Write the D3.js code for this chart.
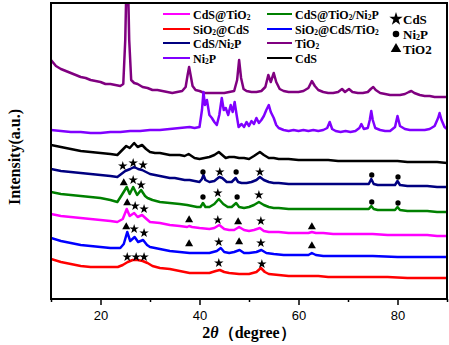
<!DOCTYPE html>
<html>
<head>
<meta charset="utf-8">
<script src="https://cdn.jsdelivr.net/npm/d3@7"></script>
<style>
  html, body { margin: 0; padding: 0; background: #fff; }
  svg { display: block; }
</style>
</head>
<body>
<svg id="chart" width="449" height="345"></svg>
<script>
// XRD patterns: [2θ (degree), intensity (a.u., stacked offset included)]
const tio2 = [[10,239],[11,233],[12,230],[13,228],[14,226],[15,224],[16,222],[17,221],[18,219],[19,218],[20,217],[21,215],[22,215],[23,214],[24,213],[24.6,215],[25.0,259],[25.3,330],[25.5,330],[25.8,259],[26.2,219],[26.8,216],[27.5,215],[28.5,212],[29.5,211],[30.5,209],[31.5,209],[32.5,208],[33.5,207],[34.5,206],[35.5,207],[36.5,208],[37.2,212],[37.6,224],[37.9,232],[38.2,224],[38.6,213],[39.2,209],[40,208],[41,206],[42,206],[43,206],[44,206],[45,206],[46,207],[47,208],[47.6,219],[48.0,239],[48.4,221],[48.9,210],[49.5,208],[50.5,207],[51.5,207],[52.5,208],[53.3,212],[53.9,224],[54.4,217],[55.0,226],[55.5,217],[56.2,210],[57,208],[58,207],[59,207],[60,207],[61,208],[62,211],[62.7,218],[63.3,213],[64,209],[65,207],[66,206],[67,206],[68,207],[68.8,210],[69.4,207],[70.2,210],[70.9,207],[72,206],[73,206],[74,207],[74.6,210],[75.1,212],[75.6,209],[76.5,206],[77.5,205],[78.5,204],[79.5,204],[80.5,204],[81.5,205],[82.3,207],[82.8,208],[83.4,206],[84.5,204],[85.5,203],[86.5,203],[87.5,202],[88.5,202],[90,202]];

const ni2p = [[10,169],[12,168],[14,167],[16,167],[18,166],[20,166],[22,167],[24,167],[26,168],[28,168],[30,169],[32,169],[34,170],[36,171],[38,172],[39,171],[40,172],[40.5,189],[40.8,207],[41.1,194],[41.5,199],[42,184],[42.5,181],[43,177],[43.5,174],[44.0,184],[44.5,201],[44.9,189],[45.3,191],[45.8,184],[46.3,194],[46.7,187],[47.1,197],[47.5,184],[47.9,172],[48.5,175],[49,172],[49.5,177],[50,173],[50.5,178],[51,175],[51.5,181],[52,176],[52.5,179],[53,183],[53.5,189],[54.0,194],[54.4,187],[55,181],[55.5,174],[56,171],[57,169],[58,168],[59,169],[60,168],[61,169],[62,168],[63,169],[64,168],[65,169],[65.8,171],[66.3,177],[66.8,170],[67.5,168],[68.5,167],[69.5,168],[70.5,167],[71.5,168],[72.3,171],[72.7,175],[73.2,170],[74.0,171],[74.4,179],[74.7,188],[75.0,179],[75.5,171],[76.5,169],[77.5,168],[78.5,168],[79.5,172],[80.0,183],[80.5,173],[81.5,170],[82.5,169],[83.5,169],[84.5,169],[85.5,169],[86.5,170],[87.5,173],[88.2,181],[88.5,186],[88.9,179],[89.5,172],[90,170]];

const cds = [[10,154],[12,152],[14,150],[16,148],[18,147],[20,146],[22,145],[23.4,144],[24.2,148],[25.2,153],[25.9,151],[26.8,156],[27.5,152],[28.4,154],[29.2,150],[30,147],[31,146],[32,146],[33,145],[34,144],[35,144],[36,144],[37,143],[37.8,145],[38.4,143],[39,141],[40,140],[41,141],[42,142],[43,144],[43.9,147],[44.6,144],[45.3,141],[46,142],[47,142],[48,141],[49,141],[50,140],[51,143],[52.2,147],[53,144],[54,141],[55,141],[56,140],[58,140],[60,139],[62,139],[64,139],[66,139],[68,138],[70,138],[72,138],[74,138],[76,138],[78,138],[80,138],[82,137],[84,137],[86,137],[88,137],[90,136]];

const cdsNi2p = [[10,130],[12,128],[14,127],[16,126],[18,125],[20,124],[22,123],[23.4,122],[24.2,125],[25,128],[26,130],[26.8,132],[27.6,130],[28.4,129],[29.2,127],[30,125],[31,124],[32,123],[33,122],[34,121],[35,121],[36,120],[37,119],[38,119],[39,118],[40,117],[40.5,120],[40.8,124],[41.2,119],[42,117],[43,118],[44,122],[44.6,121],[45.5,117],[46.5,117],[47.3,121],[47.8,117],[48.5,116],[49.5,116],[50.5,117],[51.5,119],[52.2,122],[53,119],[54,117],[55,116],[56,116],[58,115],[60,115],[62,115],[64,115],[66,115],[68,115],[70,115],[72,115],[74.2,115],[74.7,120],[75.2,115],[76,114],[78,114],[79.5,114],[80,118],[80.5,114],[82,113],[84,113],[86,113],[88,112],[90,112]];

const cdsTio2Ni2p = [[10,107],[12,105],[14,104],[16,103],[18,102],[20,101],[22,99],[23.4,97],[24.3,104],[25.3,112],[25.9,105],[26.6,112],[27.4,104],[28.2,109],[29,103],[29.5,101],[30.5,99],[32,97],[34,96],[36,95],[37.5,94],[38.5,93],[39.5,92],[40.2,92],[40.7,96],[41.2,92],[42,92],[43,95],[43.9,100],[44.8,95],[45.7,92],[46.5,92],[47.4,96],[48,92],[49,91],[50,92],[51,94],[52,97],[53,94],[54,92],[55,91],[56,91],[58,90],[60,90],[62,90],[64,90],[66,90],[68,90],[70,90],[72,90],[74.2,90],[74.7,93],[75.2,90],[76,89],[78,89],[79.5,89],[80,92],[80.5,89],[82,88],[84,88],[86,88],[88,87],[90,87]];

const cdsTio2 = [[10,85],[12,83],[14,82],[16,81],[18,80],[20,79],[22,78],[23.4,77],[24.5,80],[25.3,90],[25.9,83],[26.8,86],[27.5,82],[28.4,84],[29.3,80],[30,77],[32,76],[34,74],[36,73],[37.5,72],[37.9,73],[38.5,72],[40,71],[42,70],[43,71],[44,74],[45,70],[46,69],[47,69],[48,72],[49,69],[50,68],[51,69],[52.2,71],[53,68],[54,67],[56,67],[58,66],[60,66],[62,66],[62.7,67],[63.5,66],[65,66],[67,65],[70,65],[72,65],[75,65],[78,64],[80,64],[82,64],[84,64],[86,64],[88,63],[90,63]];

const sio2CdsTio2 = [[10,61],[12,58],[14,56],[16,54],[18,53],[20,52],[22,51],[24,51],[24.7,55],[25.4,67],[26,58],[26.9,62],[27.6,57],[28.6,59],[29.4,54],[30,52],[32,50],[34,48],[36,47],[38,46],[40,46],[42,46],[43.5,48],[44.3,51],[45,47],[46,46],[47,47],[48.1,49],[49,46],[50,46],[51.5,47],[52.5,49],[53.5,46],[55,45],[57,44],[60,44],[62,44],[62.7,46],[63.5,44],[65,43],[70,43],[75,43],[80,42],[85,42],[90,42]];

const sio2Cds = [[10,40],[12,37],[14,35],[16,33],[18,32],[20,32],[22,32],[23.5,32],[24.5,34],[25.5,37],[26.5,39],[27.5,39],[28.5,38],[29.5,36],[30.5,33],[32,31],[34,30],[36,28],[38,26],[40,26],[42,26],[43.3,28],[44.1,29],[45,27],[46,26],[48,25],[50,25],[51.5,27],[52.4,31],[53.2,27],[54,25],[56,24],[58,23],[60,23],[62,23],[64,23],[66,22],[70,22],[74,22],[78,22],[82,21],[86,21],[90,21]];

// Series names, colours and patterns (drawn back to front)
const seriesNames = ["TiO₂", "Ni₂P", "CdS", "CdS/Ni₂P", "CdS@TiO₂/Ni₂P", "CdS@TiO₂", "SiO₂@CdS/TiO₂", "SiO₂@CdS"];
const seriesColors = ["#800080", "#8000ff", "#000000", "#000080", "#008000", "#ff00ff", "#0000ff", "#ff0000"];
const seriesData = [tio2, ni2p, cds, cdsNi2p, cdsTio2Ni2p, cdsTio2, sio2CdsTio2, sio2Cds];

// Phase markers: [2θ, intensity position, phase]
const phaseMarks = [
  [24.5,133,"CdS"],[26.6,136,"CdS"],[28.6,134,"CdS"],
  [40.7,127,"Ni2P"],[44.1,127,"CdS"],[47.4,127,"Ni2P"],[52.2,127,"CdS"],[74.8,124,"Ni2P"],[80.1,122,"Ni2P"],
  [24.7,116,"TiO2"],[26.6,119,"CdS"],[28.2,114,"CdS"],
  [40.7,102,"Ni2P"],[43.7,106,"CdS"],[47.6,102,"Ni2P"],[52.0,104,"CdS"],[74.8,97,"Ni2P"],[80.1,96,"Ni2P"],
  [25.4,96,"TiO2"],[27.0,93,"CdS"],[28.8,90,"CdS"],[37.9,79,"TiO2"],
  [43.7,79,"CdS"],[47.8,77,"TiO2"],[52.4,78,"CdS"],[62.7,72,"TiO2"],
  [25.2,72,"TiO2"],[26.8,70,"CdS"],[28.8,66,"CdS"],[37.9,55,"TiO2"],
  [43.9,57,"CdS"],[48.0,57,"TiO2"],[52.4,56,"CdS"],[62.7,53,"TiO2"],
  [25.4,42,"CdS"],[27.2,42,"CdS"],[28.8,42,"CdS"],[43.9,36,"CdS"],[52.6,35,"CdS"]
];

// Legend layout order: column 1 then column 2
const legendCol1 = [5, 7, 3, 1];
const legendCol2 = [4, 6, 0, 2];
const phaseLegend = [["CdS", "CdS"], ["Ni2P", "Ni₂P"], ["TiO2", "TiO2"]];

const xTicks = [20, 40, 60, 80];
const xMinorTicks = [10, 30, 50, 70, 90];

const svg = d3.select("#chart");
const plot = { left: 51, right: 447, top: 3, bottom: 299 };

const x = d3.scaleLinear().domain([10, 90]).range([plot.left, plot.right]);
const y = d3.scaleLinear().domain([0, 296]).range([plot.bottom, plot.top]);

svg.append("defs").append("clipPath").attr("id", "plotClip")
  .append("rect")
  .attr("x", plot.left).attr("y", plot.top)
  .attr("width", plot.right - plot.left).attr("height", plot.bottom - plot.top);

const line = d3.line().x(d => x(d[0])).y(d => y(d[1])).curve(d3.curveLinear);

const curves = svg.append("g").attr("clip-path", "url(#plotClip)");
seriesData.forEach((data, i) => {
  curves.append("path")
    .datum(data)
    .attr("d", line)
    .attr("fill", "none")
    .attr("stroke", seriesColors[i])
    .attr("stroke-width", 2.5)
    .attr("stroke-linejoin", "round");
});

// Phase symbols
const symbolFor = {
  CdS: d3.symbol().type(d3.symbolStar).size(28),
  Ni2P: d3.symbol().type(d3.symbolCircle).size(22),
  TiO2: d3.symbol().type(d3.symbolTriangle).size(28)
};
svg.append("g").selectAll("path")
  .data(phaseMarks)
  .join("path")
  .attr("d", d => symbolFor[d[2]]())
  .attr("transform", d => `translate(${x(d[0])},${y(d[1])})`)
  .attr("fill", "#000");

// Frame
svg.append("rect")
  .attr("x", plot.left).attr("y", plot.top)
  .attr("width", plot.right - plot.left).attr("height", plot.bottom - plot.top)
  .attr("fill", "none").attr("stroke", "#000").attr("stroke-width", 2);

// Bottom axis with major and minor ticks
const xAxis = d3.axisBottom(x).tickValues(xTicks).tickSize(6).tickFormat(d3.format("d"));
const axisG = svg.append("g").attr("transform", `translate(0,${plot.bottom})`).call(xAxis);
axisG.select(".domain").remove();
axisG.selectAll(".tick line").attr("stroke", "#000").attr("stroke-width", 1.5);
axisG.selectAll(".tick text")
  .attr("font-family", "Liberation Sans, Arial, sans-serif")
  .attr("font-size", 13).attr("fill", "#000").attr("dy", "0.95em");
const minorAxis = d3.axisBottom(x).tickValues(xMinorTicks).tickSize(3).tickFormat("");
const minorG = svg.append("g").attr("transform", `translate(0,${plot.bottom})`).call(minorAxis);
minorG.select(".domain").remove();
minorG.selectAll(".tick line").attr("stroke", "#000").attr("stroke-width", 1.5);
minorG.selectAll(".tick text").remove();

// Axis titles
const serif = "Liberation Serif, Times New Roman, serif";
const xTitle = svg.append("text")
  .attr("x", (plot.left + plot.right) / 2).attr("y", 338)
  .attr("text-anchor", "middle")
  .attr("font-family", serif).attr("font-weight", "bold").attr("font-size", 16);
xTitle.append("tspan").text("2");
xTitle.append("tspan").attr("font-style", "italic").text("θ");
xTitle.append("tspan").text("（degree）");

svg.append("text")
  .attr("transform", "translate(20,157) rotate(-90)")
  .attr("text-anchor", "middle")
  .attr("font-family", serif).attr("font-weight", "bold").attr("font-size", 16)
  .text("Intensity(a.u.)");

// Text with subscript digits
function richLabel(sel, label, size) {
  label.split(/(₂)/).forEach(p => {
    if (p === "₂") {
      sel.append("tspan").attr("font-size", size * 0.62).attr("baseline-shift", "-18%").text("2");
    } else if (p) {
      sel.append("tspan").text(p);
    }
  });
}

// Series legend
const legendRows = [14, 29, 43, 58];
const legend = svg.append("g");
[[legendCol1, 163, 190], [legendCol2, 267, 292]].forEach(([cols, x0, x1]) => {
  cols.forEach((si, r) => {
    legend.append("line")
      .attr("x1", x0).attr("x2", x1)
      .attr("y1", legendRows[r]).attr("y2", legendRows[r])
      .attr("stroke", seriesColors[si]).attr("stroke-width", 2);
    const t = legend.append("text")
      .attr("x", x1 + 3).attr("y", legendRows[r] + 4.5)
      .attr("font-family", serif).attr("font-weight", "bold").attr("font-size", 12);
    richLabel(t, seriesNames[si], 12);
  });
});

// Phase legend
const phaseRows = [19, 34, 49];
const phaseSymbols = {
  CdS: d3.symbol().type(d3.symbolStar).size(55),
  Ni2P: d3.symbol().type(d3.symbolCircle).size(34),
  TiO2: d3.symbol().type(d3.symbolTriangle).size(48)
};
phaseLegend.forEach(([key, label], r) => {
  legend.append("path").attr("d", phaseSymbols[key]()).attr("transform", `translate(396,${phaseRows[r]})`).attr("fill", "#000");
  const t = legend.append("text")
    .attr("x", 403).attr("y", phaseRows[r] + 5)
    .attr("font-family", serif).attr("font-weight", "bold").attr("font-size", 13);
  richLabel(t, label, 13);
});
</script>
</body>
</html>
